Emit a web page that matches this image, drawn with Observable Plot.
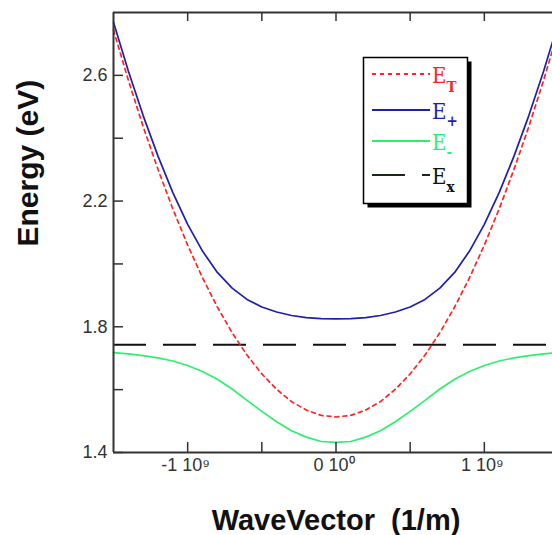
<!DOCTYPE html>
<html><head><meta charset="utf-8">
<script src="https://cdn.jsdelivr.net/npm/d3@7"></script>
<script src="https://cdn.jsdelivr.net/npm/@observablehq/plot@0.6"></script>
<style>
body{margin:0;background:#fff;}
#wrap{position:relative;width:552px;height:535px;overflow:hidden;background:#fff;}
</style></head><body><div id="wrap"></div>
<script>
// Wave vector samples (1/m)
const waveVector = [-1.5e9,-1.4e9,-1.3e9,-1.2e9,-1.1e9,-1.0e9,-0.9e9,-0.8e9,-0.7e9,-0.6e9,-0.5e9,-0.4e9,-0.3e9,-0.2e9,-0.1e9,0,
  0.1e9,0.2e9,0.3e9,0.4e9,0.5e9,0.6e9,0.7e9,0.8e9,0.9e9,1.0e9,1.1e9,1.2e9,1.3e9,1.4e9,1.5e9];
// Energies (eV)
const energyT = [2.744,2.585,2.437,2.301,2.175,2.060,1.956,1.863,1.781,1.710,1.650,1.601,1.562,1.535,1.518,1.513,
  1.518,1.535,1.562,1.601,1.650,1.710,1.781,1.863,1.956,2.060,2.175,2.301,2.437,2.585,2.744];
const energyPlus = [2.769,2.614,2.472,2.343,2.227,2.126,2.041,1.973,1.923,1.887,1.863,1.847,1.836,1.829,1.826,1.825,
  1.826,1.829,1.836,1.847,1.863,1.887,1.923,1.973,2.041,2.126,2.227,2.343,2.472,2.614,2.769];
const energyMinus = [1.718,1.714,1.708,1.701,1.691,1.677,1.658,1.633,1.602,1.566,1.531,1.498,1.469,1.449,1.435,1.432,
  1.435,1.449,1.469,1.498,1.531,1.566,1.602,1.633,1.658,1.677,1.691,1.701,1.708,1.714,1.718];
const energyX = 1.743;

const seriesNames = ["T", "+", "-", "x"];
const xDomain = [-1.5e9, 1.5e9];
const yDomain = [1.4, 2.8];
const xTicks = [-1e9, -0.5e9, 0, 0.5e9, 1e9];
const xTickLabels = ["-1 10\u2079", "0 10\u2070", "1 10\u2079"];
const xLabelTicks = [-1e9, 0, 1e9];
const yTicks = [1.4, 1.6, 1.8, 2.0, 2.2, 2.4, 2.6];
const yLabelTicks = [1.4, 1.8, 2.2, 2.6];

const rows = waveVector.map((k, i) => ({k, eT: energyT[i], eP: energyPlus[i], eM: energyMinus[i]}));

const red = "#ff2424", blue = "#1f1fb0", green = "#2ef06e", black = "#111";
const axisColor = "#333";

const chart = Plot.plot({
  width: 552, height: 535,
  marginLeft: 113, marginTop: 12, marginBottom: 83, marginRight: 0,
  style: {fontFamily: "Liberation Sans, Arial, sans-serif", fontSize: "18px", color: axisColor, background: "#fff"},
  x: {domain: xDomain, range: [113, 558], label: null},
  y: {domain: yDomain, label: null},
  marks: [
    Plot.ruleY([energyX], {stroke: black, strokeWidth: 2, strokeDasharray: "33,17"}),
    Plot.line(rows, {x: "k", y: "eT", stroke: red, strokeWidth: 1.7, strokeDasharray: "4,4"}),
    Plot.line(rows, {x: "k", y: "eP", stroke: blue, strokeWidth: 1.7}),
    Plot.line(rows, {x: "k", y: "eM", stroke: green, strokeWidth: 1.7}),
    Plot.ruleY(yDomain, {stroke: axisColor, strokeWidth: 2}),
    Plot.ruleX([xDomain[0]], {stroke: axisColor, strokeWidth: 2}),
    Plot.axisX(xTicks, {anchor: "bottom", tickSize: -10, fill: "none", stroke: axisColor, strokeWidth: 1.5, label: null}),
    Plot.axisX(xTicks, {anchor: "top", tickSize: -8, fill: "none", stroke: axisColor, strokeWidth: 1.5, label: null}),
    Plot.axisX(xLabelTicks, {anchor: "bottom", tickSize: 0, tickPadding: 6, dx: -2, label: null,
      tickFormat: d => xTickLabels[xLabelTicks.indexOf(d)], fill: axisColor}),
    Plot.axisY(yTicks, {anchor: "left", tickSize: -10, fill: "none", stroke: axisColor, strokeWidth: 1.5, label: null}),
    Plot.axisY(yLabelTicks, {anchor: "left", tickSize: 0, tickPadding: 6, label: null,
      tickFormat: d => d.toFixed(1), fill: axisColor}),
    Plot.text(["WaveVector  (1/m)"], {frameAnchor: "bottom", lineAnchor: "top", dy: 57, dx: 3,
      fontSize: 29, fontWeight: "bold", fill: "#111", fontFamily: "Liberation Sans, Arial, sans-serif"}),
    Plot.text(["Energy (eV)"], {frameAnchor: "left", lineAnchor: "top", rotate: -90, dx: -97, dy: 14,
      fontSize: 30, fontWeight: "bold", fill: "#111", fontFamily: "Liberation Sans, Arial, sans-serif"})
  ]
});
document.getElementById("wrap").appendChild(chart);

// Legend overlay
const leg = d3.select("#wrap").append("svg")
  .style("position", "absolute").style("left", "0px").style("top", "0px")
  .attr("width", 552).attr("height", 535);
leg.append("rect").attr("x", 367.5).attr("y", 61.5).attr("width", 104).attr("height", 146).attr("fill", "#000");
leg.append("rect").attr("x", 363.5).attr("y", 57.5).attr("width", 104).attr("height", 146)
  .attr("fill", "#fff").attr("stroke", "#000").attr("stroke-width", 1.5);
const legendStyles = [
  {color: red, dash: "4,4", text: red, y: 74, subDy: 9},
  {color: blue, dash: null, text: blue, y: 110, subDy: 7},
  {color: green, dash: null, text: green, y: 141, subDy: 7},
  {color: "#1a2a1a", dash: "33,17", text: "#111", y: 175, subDy: 8}
];
seriesNames.forEach((name, i) => {
  const s = legendStyles[i];
  leg.append("line").attr("x1", 372).attr("x2", 430).attr("y1", s.y).attr("y2", s.y)
    .attr("stroke", s.color).attr("stroke-width", 2).attr("stroke-dasharray", s.dash);
  const t = leg.append("text").attr("x", 432).attr("y", s.y + 9)
    .attr("fill", s.text).style("font-family", "DejaVu Serif Condensed, DejaVu Serif, serif")
    .style("font-size", "22px");
  t.append("tspan").text("E");
  t.append("tspan").attr("dy", s.subDy).style("font-size", "15px").style("font-weight", "bold").text(name);
});
</script>
</body></html>
